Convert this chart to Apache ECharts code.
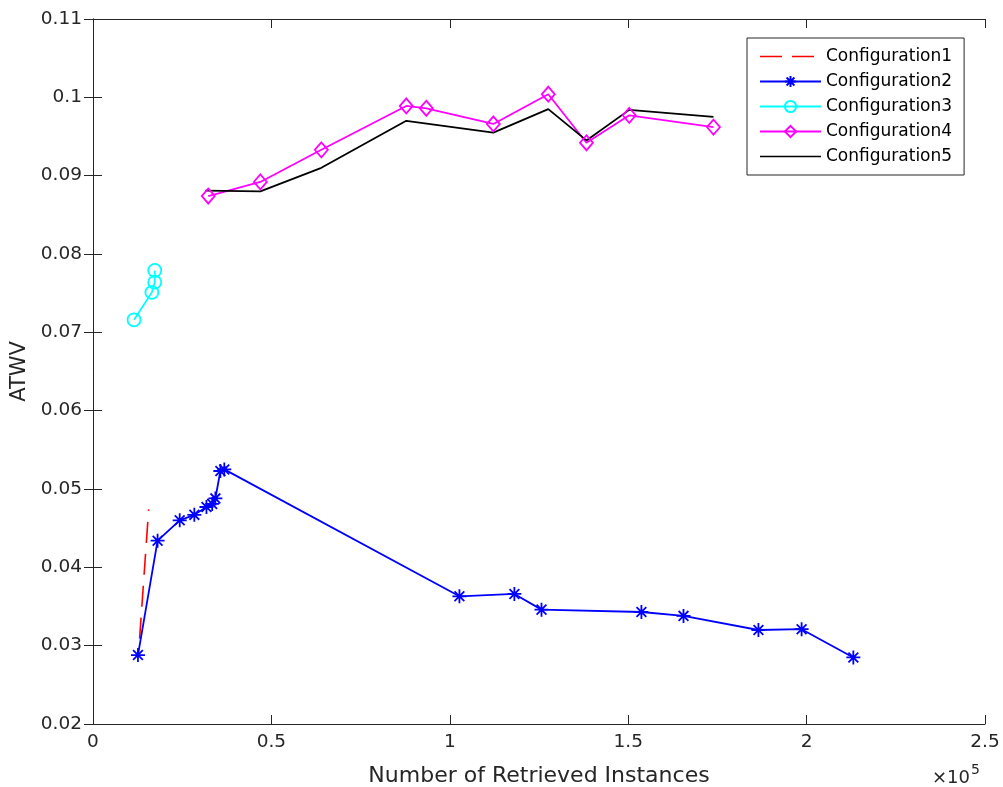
<!DOCTYPE html>
<html>
<head>
<meta charset="utf-8">
<script src="https://cdn.jsdelivr.net/npm/echarts@6/dist/echarts.min.js"></script>
<style>html,body{margin:0;padding:0;background:#fff;}#c{width:1003px;height:787px;}</style>
</head>
<body>
<div id="c"></div>
<script>
const seriesNames = ['Configuration1','Configuration2','Configuration3','Configuration4','Configuration5'];
const xTicks = [0, 50000, 100000, 150000, 200000, 250000];
const yTicks = [0.02,0.03,0.04,0.05,0.06,0.07,0.08,0.09,0.1,0.11];

const c1x = [13060, 15600];
const c1y = [0.0309, 0.0474];

const c2x = [12600, 18100, 24300, 28400, 31800, 33400, 34300, 35700, 36800, 102700, 118100, 125700, 153700, 165500, 186500, 198600, 213100];
const c2y = [0.0288, 0.0434, 0.0460, 0.0467, 0.0477, 0.0481, 0.0488, 0.0523, 0.0525, 0.0363, 0.0366, 0.0346, 0.0343, 0.0338, 0.0320, 0.0321, 0.0285];

const c3x = [11500, 16500, 17300, 17300];
const c3y = [0.0716, 0.0751, 0.0764, 0.0779];

const c4x = [32300, 46900, 64000, 87800, 93400, 112200, 127600, 138300, 150300, 173900];
const c4y = [0.0874, 0.0892, 0.0933, 0.0989, 0.0986, 0.0966, 0.1004, 0.0942, 0.0977, 0.0962];

const c5x = [31500, 46900, 64000, 87800, 112200, 127600, 138300, 150300, 173900];
const c5y = [0.0881, 0.0880, 0.0910, 0.0970, 0.0955, 0.0985, 0.0945, 0.0984, 0.0975];

function pairs(xs, ys){ return xs.map((x,i)=>[x, ys[i]]); }

const FONT = 'DejaVu Sans';
const AX = '#262626';
const starPath = 'path://M0,-1L0,1M-1,0L1,0M-0.7,-0.7L0.7,0.7M-0.7,0.7L0.7,-0.7';
const circlePath = 'path://M1,0A1,1,0,1,1,-1,0A1,1,0,1,1,1,0Z';
const diamondPath = 'path://M0,-1L0.8,0L0,1L-0.8,0Z';
// legend icons spanning the full 61x14 item box (tiny corner anchors keep the box size)
const anchors = 'M0,0L0.01,0L0,0.01Z M61,14L60.99,14L61,13.99Z ';
const dashIcon = 'path://' + anchors + 'M0,6.2h22v1.6h-22Z M32,6.2h22v1.6h-22Z';
const solidIcon = 'path://' + anchors + 'M0,6.2h61v1.6h-61Z';

const chart = echarts.init(document.getElementById('c'), null, {renderer:'canvas'});

const axisCommon = {
  axisLine:{show:true, lineStyle:{color:AX, width:1}},
  axisTick:{show:true, inside:true, length:9, lineStyle:{color:AX, width:1}},
  splitLine:{show:false}
};

chart.setOption({
  animation:false,
  backgroundColor:'#fff',
  grid:{left:93, right:18, top:19, bottom:63, containLabel:false, outerBoundsMode:'none'},
  legend:{
    orient:'vertical', left:747, top:38,
    padding:[10,12,10,12],
    itemGap:8, itemWidth:61, itemHeight:14,
    borderColor:AX, borderWidth:1, backgroundColor:'#fff',
    textStyle:{fontFamily:FONT, fontSize:17, color:'#000'},
    data: [
      {name:seriesNames[0], icon:dashIcon},
      {name:seriesNames[1]},
      {name:seriesNames[2]},
      {name:seriesNames[3]},
      {name:seriesNames[4], icon:solidIcon}
    ]
  },
  xAxis:[
    Object.assign({type:'value', min:0, max:250000, interval:50000, position:'bottom',
      name:'Number of Retrieved Instances', nameLocation:'middle', nameGap:41,
      nameTextStyle:{fontFamily:FONT, fontSize:22, color:AX},
      axisLabel:{fontFamily:FONT, fontSize:18.5, color:AX, margin:9, formatter:v=>String(parseFloat((v/1e5).toFixed(2)))}
    }, axisCommon),
    Object.assign({type:'value', min:0, max:250000, interval:50000, position:'top', axisLabel:{show:false}}, axisCommon)
  ],
  yAxis:[
    Object.assign({type:'value', min:0.02, max:0.11, interval:0.01, position:'left',
      name:'ATWV', nameLocation:'middle', nameGap:62,
      nameTextStyle:{fontFamily:FONT, fontSize:21, color:AX},
      axisLabel:{fontFamily:FONT, fontSize:18.5, color:AX, margin:11, formatter:v=>String(parseFloat(v.toFixed(2)))}
    }, axisCommon),
    Object.assign({type:'value', min:0.02, max:0.11, interval:0.01, position:'right', axisLabel:{show:false}}, axisCommon)
  ],
  graphic:[{
    type:'text', left:932, top:763,
    style:{
      text:'{a|×10}{b|5}',
      rich:{
        a:{fontFamily:FONT, fontSize:18, fill:AX, padding:[10,0,0,0]},
        b:{fontFamily:FONT, fontSize:14, fill:AX, padding:[0,0,6,1]}
      }
    }
  }],
  series:[
    {name:seriesNames[0], type:'line', data:pairs(c1x,c1y), symbol:'none',
      lineStyle:{color:'#ff0000', width:1.6, type:[21,11]}, itemStyle:{color:'#ff0000'}},
    {name:seriesNames[1], type:'line', data:pairs(c2x,c2y), symbol:starPath, symbolSize:14,
      lineStyle:{color:'#0000ff', width:1.8}, itemStyle:{color:'#0000ff', borderColor:'#0000ff', borderWidth:1.8}},
    {name:seriesNames[2], type:'line', data:pairs(c3x,c3y), symbol:circlePath, symbolSize:13,
      lineStyle:{color:'#00ffff', width:1.8}, itemStyle:{color:'rgba(0,0,0,0)', borderColor:'#00ffff', borderWidth:1.8}},
    {name:seriesNames[3], type:'line', data:pairs(c4x,c4y), symbol:diamondPath, symbolSize:[13,15],
      lineStyle:{color:'#ff00ff', width:1.8}, itemStyle:{color:'rgba(0,0,0,0)', borderColor:'#ff00ff', borderWidth:1.8}},
    {name:seriesNames[4], type:'line', data:pairs(c5x,c5y), symbol:'none',
      lineStyle:{color:'#000000', width:1.8}, itemStyle:{color:'#000000'}}
  ]
});
</script>
</body>
</html>
